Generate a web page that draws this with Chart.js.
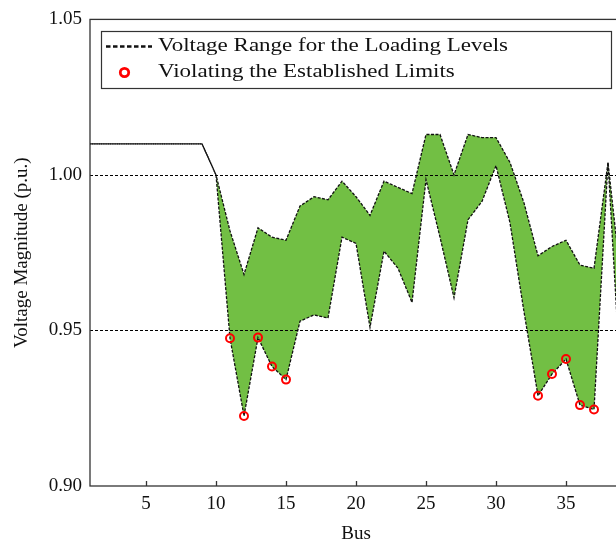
<!DOCTYPE html>
<html>
<head>
<meta charset="utf-8">
<script src="https://cdn.jsdelivr.net/npm/chart.js@4.4.1/dist/chart.umd.min.js"></script>
<style>
  html, body { margin: 0; padding: 0; overflow: hidden; background: #ffffff; }
  #wrap { width: 628px; height: 543px; position: relative; }
</style>
</head>
<body>
<div id="wrap"><canvas id="c" width="628" height="543"></canvas></div>
<script>
// Bus numbers of the feeder
const buses = [1, 2, 3, 4, 5, 6, 7, 8, 9, 10, 11, 12, 13, 14, 15, 16, 17, 18, 19, 20,
               21, 22, 23, 24, 25, 26, 27, 28, 29, 30, 31, 32, 33, 34, 35, 36, 37, 38, 39];
// Highest voltage seen at each bus over all loading levels (p.u.)
const upperV = [1.010, 1.010, 1.010, 1.010, 1.010, 1.010, 1.010, 1.010, 1.010, 1.000,
                0.982, 0.968, 0.983, 0.980, 0.979, 0.990, 0.993, 0.992, 0.998, 0.993,
                0.987, 0.998, 0.996, 0.994, 1.013, 1.013, 1.000, 1.013, 1.012, 1.012,
                1.004, 0.991, 0.974, 0.977, 0.979, 0.971, 0.970, 1.004, 0.963];
// Lowest voltage seen at each bus over all loading levels (p.u.)
const lowerV = [1.010, 1.010, 1.010, 1.010, 1.010, 1.010, 1.010, 1.010, 1.010, 1.000,
                0.9475, 0.9225, 0.9477, 0.9384, 0.9342, 0.953, 0.955, 0.954, 0.980, 0.978,
                0.951, 0.9755, 0.970, 0.959, 0.9985, 0.980, 0.9605, 0.9856, 0.9915, 1.003,
                0.9846, 0.956, 0.929, 0.936, 0.9408, 0.926, 0.9246, 1.004, 0.926];
// Buses whose minimum voltage falls under the lower limit
const violatingBuses = [11, 12, 13, 14, 15, 33, 34, 35, 36, 37];
// Axis ticks and limit lines
const xTicks = [5, 10, 15, 20, 25, 30, 35];
const yTicks = [0.90, 0.95, 1.00, 1.05];
const limits = [0.95, 1.00];
const legendLabels = ['Voltage Range for the Loading Levels', 'Violating the Established Limits'];

const FONT = '"Liberation Serif", "Times New Roman", serif';
const GREEN = '#72bf44';
const INK = '#111111';

Chart.defaults.font.family = FONT;
Chart.defaults.font.size = 19;
Chart.defaults.color = INK;

const upperPts = buses.map((b, i) => ({ x: b, y: upperV[i] }));
const lowerPts = buses.map((b, i) => ({ x: b, y: lowerV[i] }));
const violPts = violatingBuses.map(b => ({ x: b, y: lowerV[buses.indexOf(b)] }));

const decorations = {
  id: 'decorations',
  afterDatasetDraw(chart, args) {
    // dashed limit lines go above the band but under the markers
    if (args.index !== 1) return;
    const { ctx, chartArea: a, scales: { y } } = chart;
    ctx.save();
    ctx.strokeStyle = '#000';
    ctx.lineWidth = 1;
    ctx.setLineDash([3, 2]);
    limits.forEach(v => {
      const py = Math.round(y.getPixelForValue(v)) + 0.5;
      ctx.beginPath();
      ctx.moveTo(a.left, py);
      ctx.lineTo(a.right, py);
      ctx.stroke();
    });
    ctx.restore();
  },
  afterDraw(chart) {
    const { ctx, chartArea: a, scales: { x } } = chart;
    ctx.save();
    // plot frame
    ctx.strokeStyle = '#333';
    ctx.lineWidth = 1.3;
    ctx.strokeRect(a.left, a.top, a.right - a.left, a.bottom - a.top);
    // inward tick marks on the bus axis
    xTicks.forEach(v => {
      const px = Math.round(x.getPixelForValue(v)) + 0.5;
      ctx.beginPath();
      ctx.moveTo(px, a.bottom);
      ctx.lineTo(px, a.bottom - 5);
      ctx.stroke();
    });
    // legend box
    const lx = 101.5, ly = 31.5, lw = 510, lh = 57;
    ctx.fillStyle = '#fff';
    ctx.fillRect(lx, ly, lw, lh);
    ctx.strokeStyle = '#333';
    ctx.lineWidth = 1.2;
    ctx.strokeRect(lx, ly, lw, lh);
    // legend entry 1: dashed range line
    const y1 = 46.5, y2 = 72;
    ctx.strokeStyle = INK;
    ctx.lineWidth = 2.4;
    ctx.setLineDash([4.5, 2.5]);
    ctx.beginPath();
    ctx.moveTo(106, y1);
    ctx.lineTo(152, y1);
    ctx.stroke();
    ctx.setLineDash([]);
    // legend entry 2: red ring
    ctx.strokeStyle = '#ff0000';
    ctx.lineWidth = 2.8;
    ctx.beginPath();
    ctx.arc(124.5, y2 + 0.5, 4.2, 0, Math.PI * 2);
    ctx.stroke();
    // legend text
    ctx.fillStyle = INK;
    ctx.font = '19px ' + FONT;
    ctx.textBaseline = 'middle';
    const sx = 350 / ctx.measureText(legendLabels[0]).width;
    [[legendLabels[0], y1], [legendLabels[1], y2]].forEach(([t, ty]) => {
      ctx.save();
      ctx.translate(158, ty);
      ctx.scale(sx, 1);
      ctx.fillText(t, 0, 0);
      ctx.restore();
    });
    ctx.restore();
  }
};

new Chart(document.getElementById('c'), {
  type: 'line',
  data: {
    datasets: [
      {
        label: legendLabels[1],
        data: violPts,
        showLine: false,
        pointRadius: 4,
        pointHoverRadius: 4,
        pointBorderWidth: 2,
        pointBorderColor: '#ff0000',
        pointBackgroundColor: 'rgba(0,0,0,0)',
        fill: false
      },
      {
        label: legendLabels[0],
        data: upperPts,
        borderColor: INK,
        borderWidth: 1.3,
        borderDash: [3, 1.5],
        pointRadius: 0,
        tension: 0,
        fill: '+1',
        backgroundColor: GREEN
      },
      {
        label: 'lower',
        data: lowerPts,
        borderColor: INK,
        borderWidth: 1.3,
        borderDash: [3, 1.5],
        borderDashOffset: 2.25,
        pointRadius: 0,
        tension: 0,
        fill: false
      }
    ]
  },
  options: {
    responsive: false,
    animation: false,
    events: [],
    layout: { padding: { top: 17, right: 3, left: 0, bottom: 0 } },
    plugins: {
      legend: { display: false },
      tooltip: { enabled: false },
      filler: { drawTime: 'beforeDatasetsDraw' }
    },
    scales: {
      x: {
        type: 'linear',
        min: 1,
        max: 39,
        grid: { display: false, drawTicks: false },
        border: { display: false },
        afterBuildTicks: s => { s.ticks = xTicks.map(v => ({ value: v })); },
        afterFit: s => { s.height = 57; },
        ticks: { padding: 7, autoSkip: false, maxRotation: 0, callback: v => String(v) },
        title: { display: true, text: 'Bus', font: { size: 19, lineHeight: 1 }, padding: { top: 0, bottom: -1 } }
      },
      y: {
        min: 0.90,
        max: 1.05,
        grid: { display: false, drawTicks: false },
        border: { display: false },
        afterBuildTicks: s => { s.ticks = yTicks.map(v => ({ value: v })); },
        afterFit: s => { s.width = 90; },
        ticks: { padding: 8, callback: v => Number(v).toFixed(2) },
        title: { display: true, text: 'Voltage Magnitude (p.u.)', font: { size: 19, lineHeight: 1.2 }, padding: { top: 11, bottom: 0 } }
      }
    }
  },
  plugins: [decorations]
});
</script>
</body>
</html>
